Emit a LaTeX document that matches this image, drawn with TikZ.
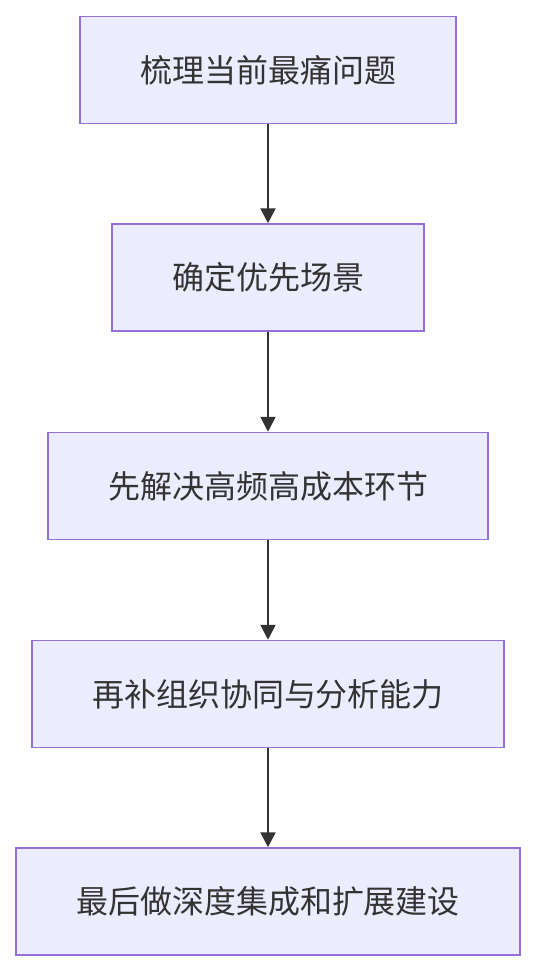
\documentclass[tikz,border=0pt]{standalone}
\usepackage{fontspec}
\setmainfont{Noto Sans CJK SC}
\usetikzlibrary{arrows.meta}
\definecolor{boxfill}{HTML}{ECECFF}
\definecolor{boxline}{HTML}{9370DB}
\definecolor{ink}{HTML}{333333}
\tikzset{
  stepbox/.style={draw=boxline, fill=boxfill, line width=1.5pt, minimum height=107pt, inner sep=0pt, text=ink, font=\fontsize{32}{38}\selectfont},
  flow/.style={draw=ink, line width=2.2pt, -{Triangle[length=15pt,width=15pt]}}
}
\begin{document}
\begin{tikzpicture}[x=1pt,y=-1pt]
\useasboundingbox (0,0) rectangle (536,972);
\node[stepbox, minimum width=376pt] (a) at (268,70) {梳理当前最痛问题};
\node[stepbox, minimum width=312pt] (b) at (268,277.5) {确定优先场景};
\node[stepbox, minimum width=440pt] (c) at (268,486) {先解决高频高成本环节};
\node[stepbox, minimum width=472pt] (d) at (268,694) {再补组织协同与分析能力};
\node[stepbox, minimum width=504pt] (e) at (268,901.5) {最后做深度集成和扩展建设};
\draw[flow] (a) -- (b);
\draw[flow] (b) -- (c);
\draw[flow] (c) -- (d);
\draw[flow] (d) -- (e);
\end{tikzpicture}
\end{document}
